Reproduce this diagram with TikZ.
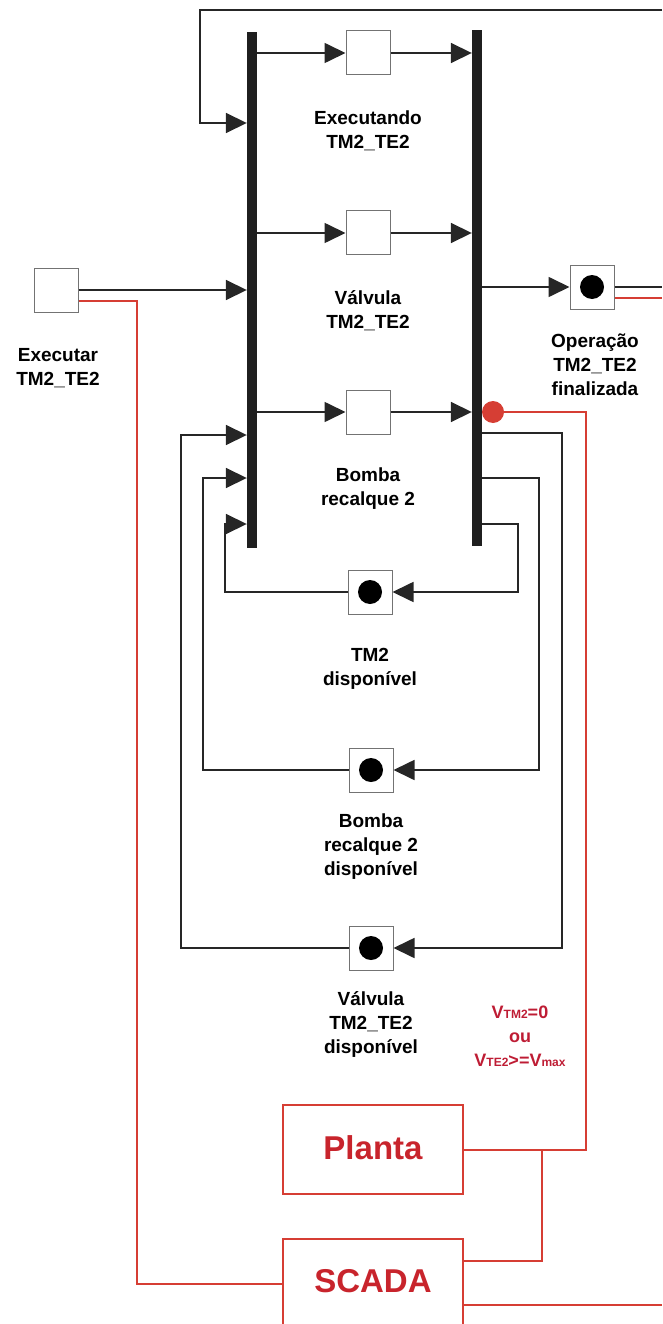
\documentclass[tikz,border=0pt]{standalone}
\usepackage{fontspec}
\setmainfont{Liberation Sans}
\usetikzlibrary{arrows.meta}
\definecolor{redline}{RGB}{214,62,52}
\definecolor{redtxt}{RGB}{200,36,44}
\definecolor{redlab}{RGB}{190,28,52}
\tikzset{
  pbox/.style={draw=black!55, line width=1pt, fill=white, minimum size=44pt, inner sep=0pt},
  tbar/.style={fill=black!88, draw=none, minimum width=10pt, minimum height=516pt, inner sep=0pt},
  tok/.style={circle, fill=black, minimum size=24pt, inner sep=0pt},
  arr/.style={-{Triangle[length=21pt,width=20pt]}, line width=1.7pt, black!85},
  plain/.style={line width=1.7pt, black!85},
  rline/.style={line width=2pt, redline},
  lab/.style={align=center, font=\fontsize{19}{24}\selectfont\bfseries, inner sep=0pt},
  rbox/.style={draw=redline, line width=2pt, minimum width=180pt, inner sep=0pt},
  rtxt/.style={font=\fontsize{33}{36}\selectfont\bfseries, text=redtxt, inner sep=0pt},
  reddot/.style={circle, fill=redline, minimum size=22pt, inner sep=0pt},
}
\begin{document}
\begin{tikzpicture}[x=1pt,y=-1pt]
\useasboundingbox (0,0) rectangle (662,1324);
% transition bars
\node[tbar] (L) at (252,290) {};
\node[tbar] (R) at (477,288) {};
% places
\node[pbox] (ex) at (368,53) {};
\node[pbox] (va) at (368,233) {};
\node[pbox] (bo) at (368,412) {};
\node[pbox] (exe) at (56,290) {};
\node[pbox] (op) at (592,287) {};
\node[pbox] (tm) at (370,592) {};
\node[pbox] (bd) at (371,770) {};
\node[pbox] (vd) at (371,948) {};
\node[tok] (optok) at (op) {};
\node[tok] (tmtok) at (tm) {};
\node[tok] (bdtok) at (bd) {};
\node[tok] (vdtok) at (vd) {};
% labels
\node[lab] (lex) at (368,131) {Executando\\TM2\_TE2};
\node[lab] (lva) at (368,311) {Válvula\\TM2\_TE2};
\node[lab] (lbo) at (368,489) {Bomba\\recalque 2};
\node[lab] (lexe) at (58,368) {Executar\\TM2\_TE2};
\node[lab] (lop) at (595,365) {Operação\\TM2\_TE2\\finalizada};
\node[lab] (ltm) at (370,669) {TM2\\disponível};
\node[lab] (lbd) at (371,847) {Bomba\\recalque 2\\disponível};
\node[lab] (lvd) at (371,1024) {Válvula\\TM2\_TE2\\disponível};
\node[align=center, inner sep=0pt, text=redlab, font=\fontsize{18}{24}\selectfont\bfseries] (cond) at (520,1036)
  {V{\fontsize{12}{12}\selectfont TM2}=0\\ou\\V{\fontsize{12}{12}\selectfont TE2}>=V{\fontsize{12}{12}\selectfont max}};
% red boxes
\node[rbox, minimum height=89pt] (planta) at (373,1149.5) {};
\node[rtxt] (plantatxt) at (373,1148) {Planta};
\node[rbox, minimum height=100pt] (scada) at (373,1289) {};
\node[rtxt] (scadatxt) at (373,1281) {SCADA};
% coordinates
\coordinate (topR) at (662,10);
\coordinate (topL) at (200,10);
\coordinate (in1) at (0,123);
\coordinate (o1) at (0,433);
\coordinate (o2) at (0,478);
\coordinate (o3) at (0,524);
\coordinate (opR) at (662,287);
\coordinate (opRr) at (662,298);
\coordinate (scR) at (662,1305);
% rows
\draw[arr] (L.east |- ex.west) -- (ex.west);
\draw[arr] (ex.east) -- (R.west |- ex.east);
\draw[arr] (L.east |- va.west) -- (va.west);
\draw[arr] (va.east) -- (R.west |- va.east);
\draw[arr] (L.east |- bo.west) -- (bo.west);
\draw[arr] (bo.east) -- (R.west |- bo.east);
\draw[arr] (exe.east) -- (L.west |- exe.east);
\draw[arr] (R.east |- op.west) -- (op.west);
\draw[plain] (op.east) -- (opR);
% top loop
\draw[arr] (topR) -- (topL) |- (L.west |- in1);
% lower loops
\draw[arr] (R.east |- o3) -- (518,524) |- (tm.east);
\draw[arr] (tm.west) -| (225,524) -- (L.west |- o3);
\draw[arr] (R.east |- o2) -- (539,478) |- (bd.east);
\draw[arr] (bd.west) -| (203,478) -- (L.west |- o2);
\draw[arr] (R.east |- o1) -- (562,433) |- (vd.east);
\draw[arr] (vd.west) -| (181,435) -- (L.west |- 0,435);
% red connections
\node[reddot] (rd) at (493,412) {};
\draw[rline] ([yshift=-11pt]op.east) -- (opRr);
\draw[rline] ([yshift=-11pt]exe.east) -| (137,1284) -- (scada.west |- 0,1284);
\draw[rline] (rd.center) -- (586,412) |- (planta.east);
\draw[rline] (542,1149.5) |- (scada.east |- 0,1261);
\draw[rline] (scada.east |- scR) -- (scR);
\end{tikzpicture}
\end{document}
